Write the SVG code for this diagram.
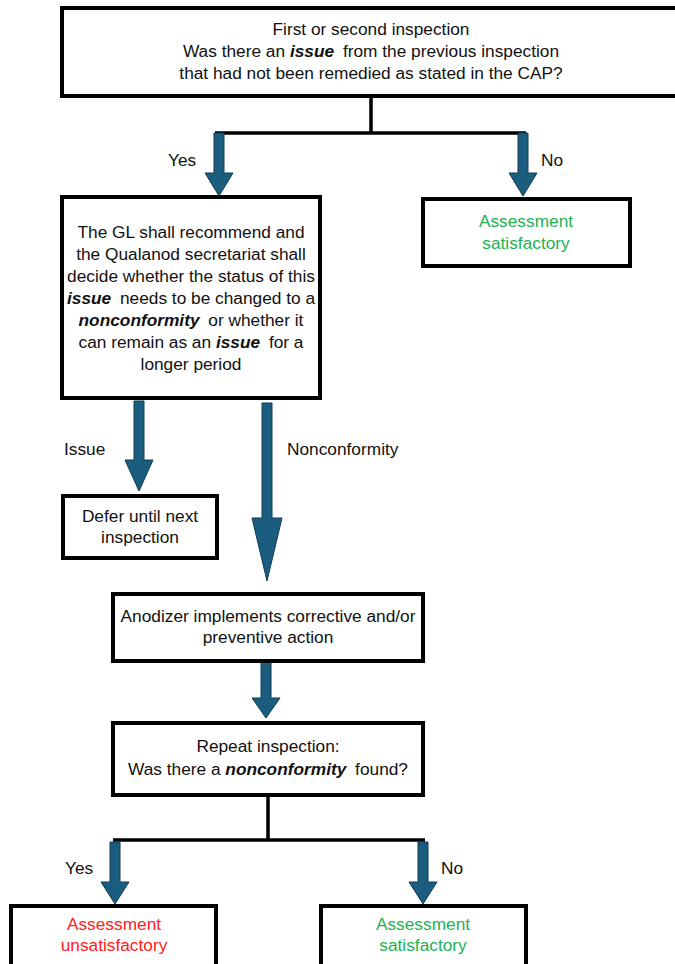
<svg xmlns="http://www.w3.org/2000/svg" width="675" height="964" viewBox="0 0 675 964">
<style>
.box{fill:#fff;stroke:#000;stroke-width:4}
.ln{fill:none;stroke:#000;stroke-width:3.5}
.arr{fill:#1b5d7e;stroke:#0f3c55;stroke-width:1}
text{font-family:"Liberation Sans",Arial,sans-serif;font-size:17.3px;fill:#111;text-anchor:middle}
.lbl{text-anchor:start}
.bi{font-weight:bold;font-style:italic}
.g{fill:#22b152}
.r{fill:#ff2020}
</style>
<rect width="675" height="964" fill="#fff"/>
<g id="connectors">
<path class="ln" d="M371 96V133M215 133H526"/>
<path class="ln" d="M268 795V840M113 840H425"/>
<path class="arr" d="M214 133h10v40h9l-14 23l-14-23h9z"/>
<path class="arr" d="M518 133h10v40h9l-14 23l-14-23h9z"/>
<path class="arr" d="M134 401h10v59h9l-14 31l-14-31h9z"/>
<path class="arr" d="M262 403h10v115h10l-15 63l-15-63h10z"/>
<path class="arr" d="M261 661h10v37h9l-14 20l-14-20h9z"/>
<path class="arr" d="M110 842h10v40h9l-14 22l-14-22h9z"/>
<path class="arr" d="M418 842h10v40h9l-14 22l-14-22h9z"/>
<text class="lbl" x="168" y="166">Yes</text>
<text class="lbl" x="541" y="166">No</text>
<text class="lbl" x="64" y="455">Issue</text>
<text class="lbl" x="287" y="455">Nonconformity</text>
<text class="lbl" x="65" y="874">Yes</text>
<text class="lbl" x="441" y="874">No</text>
</g>
<g id="n1">
<rect class="box" x="62" y="8" width="640" height="88"/>
<text x="371" y="35">First or second inspection</text>
<text x="371" y="57">Was there an <tspan class="bi">issue</tspan><tspan dx="4"> from the previous inspection</tspan></text>
<text x="371" y="79">that had not been remedied as stated in the CAP?</text>
</g>
<g id="n2">
<rect class="box" x="62" y="197" width="258" height="201"/>
<text x="191" y="238">The GL shall recommend and</text>
<text x="191" y="260">the Qualanod secretariat shall</text>
<text x="191" y="282">decide whether the status of this</text>
<text x="191" y="304"><tspan class="bi">issue</tspan><tspan dx="4"> needs to be changed to a</tspan></text>
<text x="191" y="326"><tspan class="bi">nonconformity</tspan><tspan dx="4"> or whether it</tspan></text>
<text x="191" y="348">can remain as an <tspan class="bi">issue</tspan><tspan dx="4"> for a</tspan></text>
<text x="191" y="370">longer period</text>
</g>
<g id="n3">
<rect class="box" x="423" y="199" width="207" height="67"/>
<text class="g" x="526" y="227">Assessment</text>
<text class="g" x="526" y="249">satisfactory</text>
</g>
<g id="n4">
<rect class="box" x="63" y="496" width="154" height="62"/>
<text x="140" y="522">Defer until next</text>
<text x="140" y="543">inspection</text>
</g>
<g id="n5">
<rect class="box" x="113" y="594" width="310" height="67"/>
<text x="268" y="622">Anodizer implements corrective and/or</text>
<text x="268" y="643">preventive action</text>
</g>
<g id="n6">
<rect class="box" x="113" y="723" width="310" height="72"/>
<text x="268" y="752">Repeat inspection:</text>
<text x="268" y="775">Was there a <tspan class="bi">nonconformity</tspan><tspan dx="4"> found?</tspan></text>
</g>
<g id="n7">
<rect class="box" x="11" y="906" width="205" height="80"/>
<text class="r" x="114" y="930">Assessment</text>
<text class="r" x="114" y="951">unsatisfactory</text>
</g>
<g id="n8">
<rect class="box" x="321" y="906" width="205" height="80"/>
<text class="g" x="423" y="930">Assessment</text>
<text class="g" x="423" y="951">satisfactory</text>
</g>
</svg>
